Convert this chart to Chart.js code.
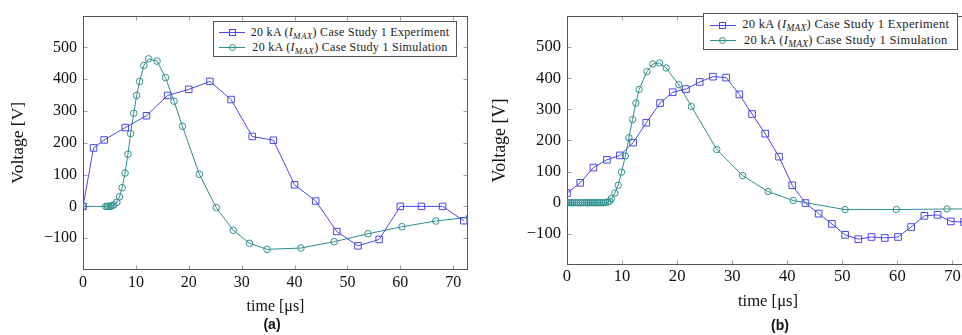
<!DOCTYPE html>
<html lang="en">
<head>
<meta charset="utf-8">
<title>Case Study 1 – voltage vs time</title>
<script src="https://cdn.jsdelivr.net/npm/chart.js@4/dist/chart.umd.min.js"></script>
<style>
  html, body { margin:0; padding:0; background:#fff; overflow:hidden; }
  body { width:962px; height:335px; position:relative; font-family:'Liberation Serif', serif; color:#111; }
  .panel { position:absolute; top:0; height:335px; }
  #panelA { left:0; width:480px; }
  #panelB { left:480px; width:500px; }
  .legend { position:absolute; box-sizing:border-box; border:1px solid #555; background:#fff; color:#222; }
  .legend .row { display:flex; align-items:center; }
  .legend .txt { flex:1; text-align:center; white-space:nowrap; }
  .legend sub { font-size:0.75em; vertical-align:-0.3em; }
  .sample { position:relative; width:26px; height:10px; flex:none; margin-right:2px; }
  .sample::before { content:''; position:absolute; left:0; right:0; top:4.5px; height:1px; background:currentColor; }
  .sample::after { content:''; position:absolute; left:9.5px; top:1.5px; width:5px; height:5px; border:1px solid currentColor; background:transparent; }
  .sample.circ::after { border-radius:50%; }
  .exp { color:#4a4ae8; }
  .sim { color:#2f8f8f; }
  #legA { left:213px; top:21px; width:244px; height:36px; padding:3px 3px 0 5px; font-size:12px; letter-spacing:0.3px; }
  #legA .row { height:15px; }
  #legB { left:703px; top:13px; width:255px; height:37px; padding:3.5px 3px 0 5.5px; font-size:12.5px; letter-spacing:0.32px; }
  #legB .row { height:15.5px; }
  .cap { position:absolute; width:40px; text-align:center; font:bold 14px 'Liberation Sans', Arial, sans-serif; line-height:16px; color:#111; }
</style>
</head>
<body>
  <div class="panel" id="panelA"><canvas id="chartA"></canvas></div>
  <div class="panel" id="panelB"><canvas id="chartB"></canvas></div>

  <div class="legend" id="legA">
    <div class="row"><span class="sample exp"></span><span class="txt">20 kA (<i>I<sub>MAX</sub></i>) Case Study 1 Experiment</span></div>
    <div class="row"><span class="sample sim circ"></span><span class="txt">20 kA (<i>I<sub>MAX</sub></i>) Case Study 1 Simulation</span></div>
  </div>
  <div class="legend" id="legB">
    <div class="row"><span class="sample exp"></span><span class="txt">20 kA (<i>I<sub>MAX</sub></i>) Case Study 1 Experiment</span></div>
    <div class="row"><span class="sample sim circ"></span><span class="txt">20 kA (<i>I<sub>MAX</sub></i>) Case Study 1 Simulation</span></div>
  </div>

  <div class="cap" style="left:252px; top:316px;">(a)</div>
  <div class="cap" style="left:760px; top:317px;">(b)</div>

<script>
  // ---- data ----
  // (a)
  const expTimeA = [0, 2, 4, 8, 12, 16, 20, 24, 28, 32, 36, 40, 44, 48, 52, 56, 60, 64, 68, 72];
  const expVoltA = [0, 184, 209, 248, 285, 349, 368, 393, 336, 220, 208, 68, 17, -79, -124, -104, 0, 0, 0, -45];
  const simTimeA = [0, 4.3, 4.6, 4.9, 5.2, 5.5, 5.8, 6.4, 6.9, 7.4, 7.95, 8.5, 9.0, 9.6, 10.15, 10.7, 11.5, 12.4,
                    14.0, 15.6, 17.2, 18.8, 22.0, 25.2, 28.4, 31.5, 34.8, 41.2, 47.5, 53.9, 60.3, 66.7, 73.1];
  const simVoltA = [0, 0, 0, 0, 1, 2, 5, 13, 30, 59, 105, 164, 229, 293, 349, 393, 443, 464,
                    457, 405, 331, 252, 101, -4, -75, -116, -135, -131, -111, -86, -64, -46, -34];
  // (b)
  const expTimeB = [0, 2.4, 4.8, 7.25, 9.6, 12.0, 14.4, 16.9, 19.2, 21.6, 24.1, 26.5, 28.9, 31.3, 33.6, 36.0,
                    38.5, 40.9, 43.3, 45.7, 48.1, 50.5, 52.9, 55.3, 57.7, 60.1, 62.5, 64.9, 67.3, 69.7, 72.1];
  const expVoltB = [31, 64, 113, 138, 152, 193, 257, 320, 355, 365, 388, 405, 402, 348, 285, 222,
                    148, 56, -1, -35, -68, -103, -117, -110, -113, -110, -78, -42, -39, -60, -62];
  const simTimeB = [0, 0.35, 0.7, 1.05, 1.4, 1.75, 2.1, 2.45, 2.8, 3.15, 3.5, 3.85, 4.2, 4.55, 4.9, 5.25, 5.6,
                    5.95, 6.3, 6.65, 7.0, 7.4, 7.75, 8.05, 8.7, 9.3, 9.9, 10.6, 11.25, 11.9, 12.5, 13.1,
                    14.5, 15.6, 16.8, 18.0, 20.3, 22.6, 27.2, 31.9, 36.5, 41.1, 50.5, 59.8, 69.0, 78.3];
  const simVoltB = [0, 0, 0, 0, 0, 0, 0, 0, 0, 0, 0, 0, 0, 0, 0, 0, 0,
                    0, 0, 0, 1, 2, 5, 13, 31, 56, 98, 150, 209, 267, 320, 364,
                    421, 446, 449, 433, 379, 309, 171, 87, 36, 7, -22, -22, -20, -20];

  const xTicks = [0, 10, 20, 30, 40, 50, 60, 70];
  const yTicks = [-100, 0, 100, 200, 300, 400, 500];

  const BLUE = '#4a4ae8';
  const TEAL = '#2f8f8f';
  const SERIF = "'Liberation Serif', 'Times New Roman', serif";

  // frame + inward ticks on all four sides, like pgfplots
  const framePlugin = {
    id: 'frame',
    beforeDatasetsDraw(chart) {
      const {ctx, chartArea: a, scales: {x, y}} = chart;
      const L = Math.round(a.left) + .5, R = Math.round(a.right) - .5;
      const T = Math.round(a.top) + .5, B = Math.round(a.bottom) - .5;
      ctx.save();
      ctx.lineWidth = 1;
      ctx.strokeStyle = '#a0a0a0';
      ctx.beginPath();
      xTicks.forEach(v => {
        const px = Math.round(x.getPixelForValue(v)) + .5;
        ctx.moveTo(px, T); ctx.lineTo(px, T + 4);
        ctx.moveTo(px, B); ctx.lineTo(px, B - 4);
      });
      yTicks.forEach(v => {
        const py = Math.round(y.getPixelForValue(v)) + .5;
        ctx.moveTo(L, py); ctx.lineTo(L + 4, py);
        ctx.moveTo(R, py); ctx.lineTo(R - 4, py);
      });
      ctx.stroke();
      ctx.strokeStyle = '#555';
      ctx.strokeRect(L, T, R - L, B - T);
      ctx.restore();
    }
  };

  const minus = v => v < 0 ? '\u2212' + Math.abs(v) : String(v);
  const pts = (t, v) => t.map((x, i) => ({x, y: v[i]}));

  function buildChart(id, expT, expV, simT, simV, g) {
    return new Chart(document.getElementById(id), {
      type: 'line',
      data: {
        datasets: [
          { label: '20 kA (I_MAX) Case Study 1 Experiment', data: pts(expT, expV),
            borderColor: BLUE, backgroundColor: 'rgba(0,0,0,0)', borderWidth: 1,
            pointStyle: 'rect', pointRadius: g.sq, pointBorderWidth: 1, pointBorderColor: BLUE,
            pointBackgroundColor: 'rgba(0,0,0,0)', tension: 0 },
          { label: '20 kA (I_MAX) Case Study 1 Simulation', data: pts(simT, simV),
            borderColor: TEAL, backgroundColor: 'rgba(0,0,0,0)', borderWidth: 1,
            pointStyle: 'circle', pointRadius: g.ci, pointBorderWidth: 1, pointBorderColor: TEAL,
            pointBackgroundColor: 'rgba(0,0,0,0)', tension: 0 }
        ]
      },
      options: {
        responsive: true, maintainAspectRatio: false, animation: false,
        layout: { padding: { left: 0, right: g.padR, top: g.padT, bottom: 0 } },
        plugins: { legend: { display: false }, tooltip: { enabled: false } },
        scales: {
          x: {
            type: 'linear', min: 0, max: g.xMax,
            grid: { display: false, drawTicks: false }, border: { display: false },
            afterBuildTicks: s => { s.ticks = xTicks.map(v => ({value: v})); },
            afterFit: s => { s.height = g.xH; },
            ticks: { font: {family: SERIF, size: g.fs}, color: '#111', padding: g.xTickPad, maxRotation: 0, autoSkip: false },
            title: { display: true, text: 'time [μs]', font: {family: SERIF, size: g.fs}, color: '#111',
                     padding: { top: 0, bottom: g.xTitlePad } }
          },
          y: {
            type: 'linear', min: -200, max: 600,
            grid: { display: false, drawTicks: false }, border: { display: false },
            afterBuildTicks: s => { s.ticks = yTicks.map(v => ({value: v})); },
            afterFit: s => { s.width = g.yW; },
            ticks: { font: {family: SERIF, size: g.fs}, color: '#111', padding: g.yTickPad, callback: minus },
            title: { display: true, text: 'Voltage [V]', font: {family: SERIF, size: g.yfs}, color: '#111',
                     padding: { top: g.yTitlePad, bottom: 0 } }
          }
        }
      },
      plugins: [framePlugin]
    });
  }

  buildChart('chartA', expTimeA, expVoltA, simTimeA, simVoltA,
    { xMax: 72.8, padR: 12, padT: 13, xH: 65, yW: 83, fs: 16, yfs: 17.5, xTickPad: 3.5, xTitlePad: 19, yTickPad: 6, yTitlePad: 7.5, sq: 4.6, ci: 3.3 });
  buildChart('chartB', expTimeB, expVoltB, simTimeB, simVoltB,
    { xMax: 73, padR: 11, padT: 5, xH: 70, yW: 87, fs: 16.6, yfs: 18, xTickPad: 2, xTitlePad: 23, yTickPad: 6, yTitlePad: 9, sq: 4.7, ci: 3.2 });
</script>
</body>
</html>
